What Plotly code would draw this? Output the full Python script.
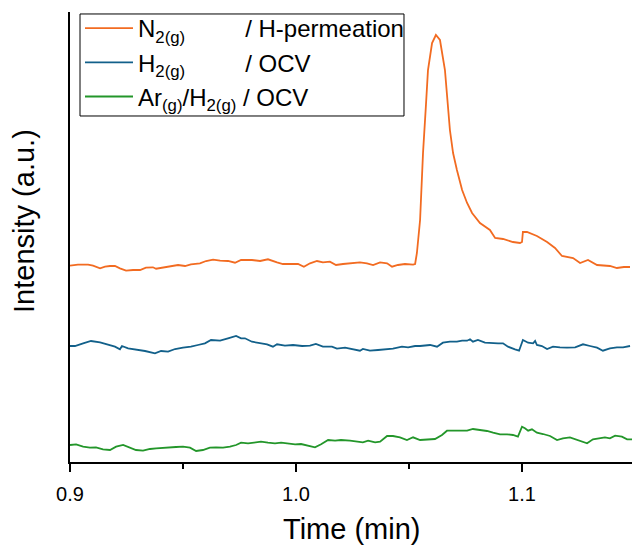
import plotly.graph_objects as go

# Time (min) and intensity (a.u., arbitrary offset units)
n2_time = [0.9000, 0.9035, 0.9080, 0.9102, 0.9133, 0.9155, 0.9177, 0.9199, 0.9221, 0.9248,
           0.9279, 0.9310, 0.9336, 0.9367, 0.9381, 0.9412, 0.9442, 0.9478, 0.9509, 0.9535,
           0.9575, 0.9602, 0.9633, 0.9664, 0.9699, 0.9730, 0.9757, 0.9788, 0.9805, 0.9841,
           0.9876, 0.9916, 0.9942, 0.9982, 1.0009, 1.0035, 1.0062, 1.0093, 1.0119, 1.0150,
           1.0177, 1.0208, 1.0248, 1.0283, 1.0314, 1.0341, 1.0372, 1.0403, 1.0425, 1.0451,
           1.0482, 1.0518, 1.0527, 1.0535, 1.0549, 1.0562, 1.0575, 1.0584, 1.0602, 1.0619,
           1.0637, 1.0659, 1.0681, 1.0695, 1.0712, 1.0735, 1.0757, 1.0779, 1.0814, 1.0858,
           1.0881, 1.0916, 1.0960, 1.0991, 1.1000, 1.1004, 1.1022, 1.1066, 1.1111, 1.1146,
           1.1177, 1.1226, 1.1257, 1.1292, 1.1332, 1.1389, 1.1420, 1.1451, 1.1478]
n2_int = [196.3, 197.3, 197.3, 196.3, 193.7, 195.3, 196.0, 196.0, 193.7, 191.3,
          192.0, 192.0, 194.3, 194.7, 193.3, 194.3, 195.3, 197.0, 196.0, 197.7,
          198.7, 201.0, 202.3, 201.3, 201.0, 199.3, 202.0, 202.0, 202.0, 201.0,
          202.7, 199.7, 198.0, 198.0, 198.0, 195.3, 198.7, 201.0, 199.7, 200.3,
          197.0, 198.0, 199.3, 199.7, 198.7, 197.0, 199.7, 198.7, 195.3, 197.0,
          198.0, 197.3, 198.0, 209.0, 242.0, 309.0, 357.0, 392.0, 419.0, 427.0,
          422.0, 392.0, 332.0, 309.0, 292.0, 272.0, 259.0, 249.0, 239.0, 232.0,
          224.0, 223.0, 220.0, 219.0, 220.0, 230.0, 230.0, 226.0, 220.0, 214.0,
          206.0, 204.0, 199.0, 202.0, 197.0, 196.0, 194.0, 195.0, 195.0]

h2_time = [0.9000, 0.9022, 0.9058, 0.9093, 0.9133, 0.9159, 0.9199, 0.9221, 0.9230, 0.9257,
           0.9292, 0.9332, 0.9376, 0.9403, 0.9434, 0.9465, 0.9500, 0.9535, 0.9566, 0.9597,
           0.9624, 0.9664, 0.9699, 0.9735, 0.9757, 0.9774, 0.9805, 0.9841, 0.9872, 0.9898,
           0.9916, 0.9951, 0.9987, 1.0027, 1.0062, 1.0088, 1.0119, 1.0159, 1.0181, 1.0217,
           1.0252, 1.0283, 1.0296, 1.0327, 1.0363, 1.0394, 1.0429, 1.0469, 1.0496, 1.0527,
           1.0549, 1.0593, 1.0624, 1.0650, 1.0681, 1.0712, 1.0735, 1.0757, 1.0770, 1.0783,
           1.0805, 1.0836, 1.0867, 1.0894, 1.0916, 1.0938, 1.0969, 1.0987, 1.1004, 1.1027,
           1.1049, 1.1058, 1.1066, 1.1088, 1.1111, 1.1137, 1.1168, 1.1199, 1.1235, 1.1270,
           1.1301, 1.1332, 1.1358, 1.1389, 1.1420, 1.1447, 1.1478]
h2_int = [116.0, 116.0, 118.7, 121.0, 119.7, 117.7, 115.3, 112.7, 116.0, 113.7,
          112.7, 111.0, 108.7, 111.0, 110.3, 113.0, 114.3, 115.3, 117.0, 118.7,
          122.0, 121.3, 123.7, 126.0, 123.7, 123.7, 120.3, 119.3, 117.7, 115.3,
          117.7, 116.3, 117.0, 116.0, 116.3, 118.0, 115.3, 115.3, 113.3, 114.3,
          112.7, 111.3, 113.0, 111.3, 112.0, 112.7, 113.3, 115.3, 114.7, 116.0,
          116.0, 117.0, 115.3, 119.3, 120.3, 120.3, 121.3, 121.3, 122.7, 120.3,
          122.0, 119.3, 118.7, 118.7, 118.7, 115.3, 112.7, 111.3, 122.0, 119.3,
          118.7, 121.0, 117.0, 116.0, 113.0, 115.3, 114.7, 114.3, 114.7, 117.7,
          116.0, 114.3, 111.3, 113.7, 114.7, 114.7, 116.0]

ar_time = [0.9000, 0.9027, 0.9058, 0.9088, 0.9115, 0.9146, 0.9177, 0.9204, 0.9235, 0.9265,
           0.9292, 0.9323, 0.9354, 0.9381, 0.9412, 0.9442, 0.9469, 0.9500, 0.9531, 0.9558,
           0.9588, 0.9619, 0.9646, 0.9677, 0.9708, 0.9735, 0.9757, 0.9788, 0.9819, 0.9845,
           0.9876, 0.9907, 0.9934, 0.9965, 0.9996, 1.0022, 1.0053, 1.0084, 1.0111, 1.0142,
           1.0173, 1.0199, 1.0239, 1.0270, 1.0296, 1.0319, 1.0350, 1.0372, 1.0403, 1.0429,
           1.0460, 1.0491, 1.0518, 1.0549, 1.0580, 1.0615, 1.0646, 1.0668, 1.0695, 1.0726,
           1.0757, 1.0783, 1.0814, 1.0845, 1.0872, 1.0903, 1.0934, 1.0960, 1.0982, 1.1000,
           1.1013, 1.1027, 1.1044, 1.1066, 1.1093, 1.1124, 1.1155, 1.1181, 1.1212, 1.1243,
           1.1270, 1.1288, 1.1314, 1.1336, 1.1367, 1.1389, 1.1412, 1.1442, 1.1465, 1.1487]
ar_int = [17.0, 17.7, 15.3, 14.3, 14.7, 12.7, 12.0, 15.3, 17.0, 14.7,
          12.0, 11.3, 13.0, 13.7, 14.3, 15.0, 15.0, 15.3, 14.3, 11.0,
          12.0, 14.3, 14.7, 14.3, 15.3, 17.0, 19.3, 18.7, 19.7, 20.3,
          19.3, 18.7, 19.3, 18.7, 17.7, 18.0, 16.3, 14.7, 17.7, 22.0,
          21.3, 22.0, 21.3, 20.3, 19.7, 21.3, 19.7, 20.3, 26.0, 26.0,
          24.7, 22.0, 24.7, 22.0, 22.7, 23.0, 27.0, 31.3, 31.3, 31.0,
          31.3, 33.0, 32.0, 31.0, 29.3, 27.7, 27.7, 27.0, 25.3, 35.3,
          33.7, 31.3, 32.7, 29.3, 28.0, 26.0, 22.0, 23.7, 24.7, 22.0,
          19.7, 18.7, 22.7, 23.7, 24.7, 23.7, 26.3, 25.3, 22.7, 22.7]

series_names = [
    "N<sub>2(g)</sub>" + "\u00a0" * 9 + "/ H-permeation",
    "H<sub>2(g)</sub>" + "\u00a0" * 9 + "/ OCV",
    "Ar<sub>(g)</sub>/H<sub>2(g)</sub>" + "\u00a0" + "/ OCV",
]
series_colors = ["#F26B21", "#12608A", "#23962A"]

x_ticks = [0.9, 1.0, 1.1]
x_tick_labels = ["0.9", "1.0", "1.1"]

FONT = "Arial, Liberation Sans, sans-serif"

fig = go.Figure()
for t, v, name, col in zip([n2_time, h2_time, ar_time], [n2_int, h2_int, ar_int],
                           series_names, series_colors):
    fig.add_trace(go.Scatter(x=t, y=v, mode="lines", name=name,
                             line=dict(color=col, width=1.8)))

fig.update_layout(
    width=632, height=547,
    margin=dict(l=70, r=0, t=12, b=85),
    paper_bgcolor="white", plot_bgcolor="white",
    font=dict(family=FONT, color="black"),
    showlegend=True,
    legend=dict(x=0.0178, y=1.0133, xanchor="left", yanchor="top",
                borderwidth=0, bgcolor="rgba(255,255,255,0)",
                font=dict(family=FONT, size=24, color="black"),
                itemwidth=48, tracegroupgap=0),
    shapes=[dict(type="rect", xref="paper", yref="paper",
                 x0=0.0178, x1=0.5943, y0=0.7689, y1=0.9956,
                 line=dict(color="black", width=1), fillcolor="rgba(0,0,0,0)")],
    xaxis=dict(range=[0.9, 1.14867], tickvals=x_ticks, ticktext=x_tick_labels,
               showline=True, linecolor="black", linewidth=1.5,
               ticks="outside", ticklen=8, tickwidth=1.5, tickcolor="black",
               minor=dict(ticks="outside", ticklen=5, tickwidth=1.5, tickcolor="black",
                          dtick=0.05, tick0=0.9, showgrid=False),
               tickfont=dict(family=FONT, size=20, color="black"),
               ticklabelstandoff=5,
               showgrid=False, zeroline=False),
    yaxis=dict(range=[0, 450], showline=True, linecolor="black", linewidth=1.5,
               ticks="", showticklabels=False, showgrid=False, zeroline=False),
    annotations=[
        dict(text="Time (min)", xref="paper", yref="paper", x=0.5, y=-0.1489,
             xanchor="center", yanchor="middle", showarrow=False,
             font=dict(family=FONT, size=29, color="black")),
        dict(text="Intensity (a.u.)", xref="paper", yref="paper", x=-0.0819, y=0.5356,
             xanchor="center", yanchor="middle", showarrow=False, textangle=-90,
             font=dict(family=FONT, size=29, color="black")),
    ],
)

fig.write_html("out.html", config={"displayModeBar": False},
               post_script="document.body.style.margin='0';")
